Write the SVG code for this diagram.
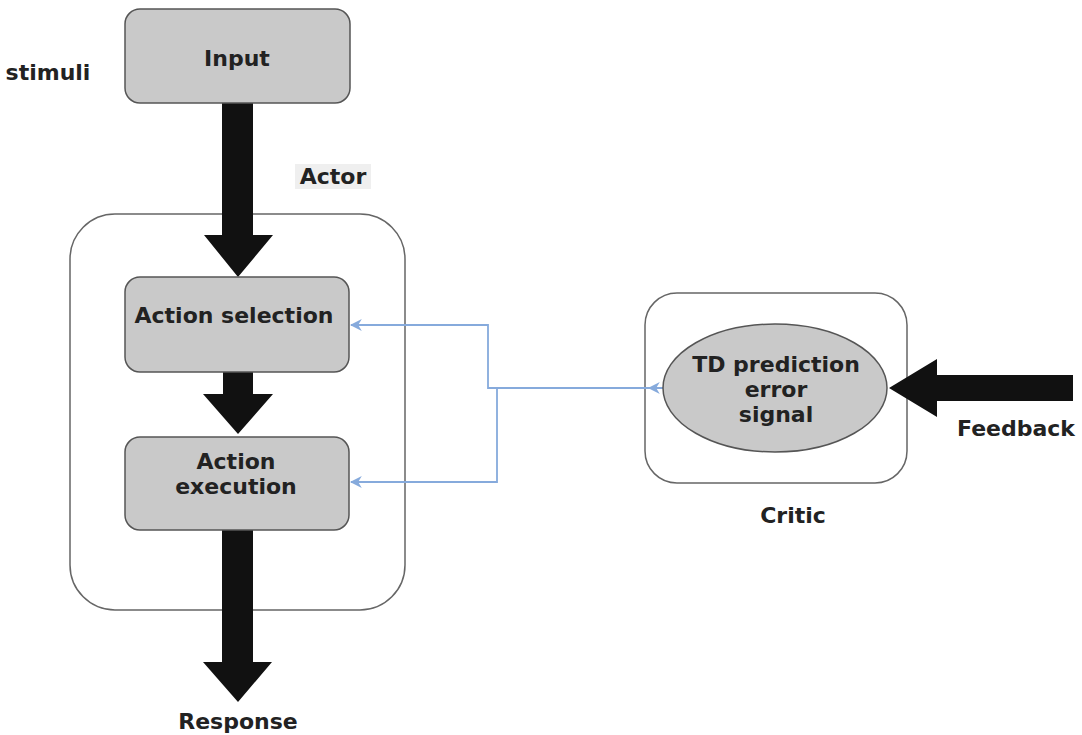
<svg xmlns="http://www.w3.org/2000/svg" width="1082" height="735" viewBox="0 0 1082 735">
<defs>
<style>
.box{fill:#c9c9c9;stroke:#555;stroke-width:1.5}
.cont{fill:none;stroke:#666;stroke-width:1.5}
.t{font-family:"DejaVu Sans","Liberation Sans",sans-serif;font-weight:bold;font-size:22px;fill:#222;text-anchor:middle}
.big{fill:#111;stroke:none}
.blue{fill:none;stroke:#86aadc;stroke-width:1.8}
</style>
<marker id="ah" viewBox="0 0 10 10" refX="9" refY="5" markerWidth="12" markerHeight="12" markerUnits="userSpaceOnUse" orient="auto">
<path d="M0,0 L10,5 L0,10 L3,5 Z" fill="#86aadc"/>
</marker>
</defs>
<rect width="1082" height="735" fill="#fff"/>

<g id="actor-container">
<rect class="cont" x="70" y="214" width="335" height="396" rx="45" ry="45"/>
</g>
<g id="critic-container">
<rect class="cont" x="645" y="293" width="262" height="190" rx="32" ry="32"/>
</g>

<g id="connectors">
<path class="big" d="M222,103 L253,103 L253,235 L273,235 L238,277 L204,235 L222,235 Z"/>
<path class="big" d="M223,372 L253,372 L253,394 L273,394 L238,434 L203,394 L223,394 Z"/>
<path class="big" d="M222,530 L253,530 L253,662 L272,662 L238,702 L203,662 L222,662 Z"/>
<path class="big" d="M1073,375 L1073,401 L937,401 L937,417 L889,388 L937,359 L937,375 Z"/>
<path class="blue" d="M663,388 L488,388 L488,325 L351,325" marker-end="url(#ah)"/>
<path class="blue" d="M497,388 L497,482 L351,482" marker-end="url(#ah)"/>
<path class="blue" d="M664,388 L649,388" marker-end="url(#ah)"/>
</g>

<g id="input">
<rect class="box" x="125" y="9" width="225" height="94" rx="15" ry="15"/>
<text class="t" x="237" y="66">Input</text>
</g>
<g id="stimuli">
<text class="t" x="48" y="80">stimuli</text>
</g>
<g id="actor-label">
<rect x="295" y="164" width="76" height="25" fill="#efefef"/>
<text class="t" x="333" y="184">Actor</text>
</g>
<g id="action-selection">
<rect class="box" x="125" y="277" width="224" height="95" rx="15" ry="15"/>
<text class="t" x="234" y="323">Action selection</text>
</g>
<g id="action-execution">
<rect class="box" x="125" y="437" width="224" height="93" rx="15" ry="15"/>
<text class="t" x="236" y="469">Action</text>
<text class="t" x="236" y="494">execution</text>
</g>
<g id="td-error">
<ellipse cx="775" cy="388" rx="112" ry="64" fill="#c9c9c9" stroke="#555" stroke-width="1.5"/>
<text class="t" x="776" y="372">TD prediction</text>
<text class="t" x="776" y="397">error</text>
<text class="t" x="776" y="422">signal</text>
</g>
<g id="critic-label">
<text class="t" x="793" y="523">Critic</text>
</g>
<g id="feedback-label">
<text class="t" x="1016" y="436">Feedback</text>
</g>
<g id="response-label">
<text class="t" x="238" y="729">Response</text>
</g>
</svg>
